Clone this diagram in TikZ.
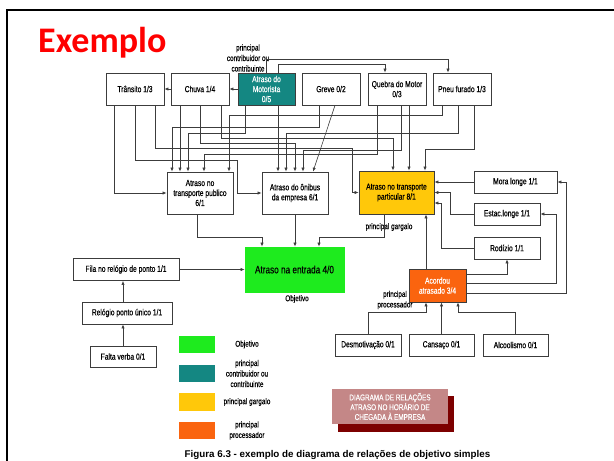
\documentclass[tikz,border=0pt]{standalone}
\usepackage{fontspec}
\setmainfont{Liberation Sans}
\newfontfamily\nodefont{Liberation Sans}[FakeStretch=0.76,FakeBold=0.35]
\newfontfamily\exfont{Carlito}
\usetikzlibrary{arrows.meta}
\definecolor{cgreen}{RGB}{30,235,30}
\definecolor{cteal}{RGB}{20,135,130}
\definecolor{cyellow}{RGB}{255,200,10}
\definecolor{corange}{RGB}{250,100,15}
\definecolor{cpink}{RGB}{196,135,135}
\definecolor{cdark}{RGB}{125,0,0}
\definecolor{cline}{RGB}{60,60,60}
\begin{document}
\begin{tikzpicture}[x=1pt,y=-1pt,
  bx/.style={draw=cline, line width=0.7pt, fill=white, inner sep=0pt, align=center,
    font=\nodefont\fontsize{8.8}{10}\selectfont},
  lbl/.style={inner sep=0pt, align=center, font=\nodefont\fontsize{8.4}{10.5}\selectfont},
  cn/.style={draw=cline, line width=0.6pt, -{Latex[length=4pt,width=3.2pt]}},
  sw/.style={draw=none, minimum width=36pt, minimum height=17.5pt, inner sep=0pt}]
\useasboundingbox (0,0) rectangle (614,461);
\fill[white] (0,0) rectangle (614,461);
\draw[line width=2.5pt] (7,461) -- (7,10) -- (614,10);

\node[anchor=base west, text=red, inner sep=0pt, font=\exfont\bfseries\fontsize{36}{40}\selectfont] (ex) at (38,52) {Exemplo};

% top row
\node[bx, minimum width=58pt, minimum height=32pt] (tra) at (135,89) {Trânsito 1/3};
\node[bx, minimum width=58pt, minimum height=32pt] (chu) at (200,89) {Chuva 1/4};
\node[bx, fill=cteal, text=white, minimum width=57pt, minimum height=32pt] (mot) at (266.5,89) {Atraso do\\Motorista\\0/5};
\node[bx, minimum width=58pt, minimum height=32pt] (gre) at (331,89) {Greve 0/2};
\node[bx, minimum width=58pt, minimum height=32pt] (que) at (397,89) {Quebra do Motor\\0/3};
\node[bx, minimum width=58pt, minimum height=32pt] (pne) at (462,89) {Pneu furado 1/3};
\node[lbl] (lcon) at (248,58) {principal\\contribuidor ou\\contribuinte};

% second row
\node[bx, minimum width=66pt, minimum height=42pt] (pub) at (200,193) {Atraso no\\transporte publico\\6/1};
\node[bx, minimum width=66pt, minimum height=42pt] (oni) at (295,193) {Atraso do ônibus\\da empresa 6/1};
\node[bx, fill=cyellow, minimum width=75pt, minimum height=43pt] (par) at (396.5,192.5) {Atraso no transporte\\particular 8/1};
\node[lbl] (lgar) at (389,227) {principal gargalo};

\node[bx, fill=cgreen, draw=cgreen, minimum width=99pt, minimum height=45pt, font=\nodefont\fontsize{10.8}{12}\selectfont] (ent) at (294.5,269.5) {Atraso na entrada 4/0};
\node[lbl] (lobj) at (297,299) {Objetivo};

\node[bx, minimum width=106pt, minimum height=22pt] (fil) at (126,269.5) {Fila no relógio de ponto 1/1};
\node[bx, minimum width=90pt, minimum height=22pt] (rel) at (127,313) {Relógio ponto único 1/1};
\node[bx, minimum width=66pt, minimum height=21pt] (fal) at (123,356.5) {Falta verba 0/1};

% right side
\node[bx, minimum width=83pt, minimum height=22pt] (mor) at (515.5,182) {Mora longe 1/1};
\node[bx, minimum width=66pt, minimum height=22pt] (est) at (507,214) {Estac.longe 1/1};
\node[bx, minimum width=66pt, minimum height=22pt] (rod) at (507,248) {Rodízio 1/1};
\node[bx, fill=corange, text=white, minimum width=57pt, minimum height=33pt] (aco) at (437.5,285.5) {Acordou\\atrasado 3/4};
\node[lbl] (lpro) at (395,300) {principal\\processador};

\node[bx, minimum width=66pt, minimum height=22pt] (des) at (368,345) {Desmotivação 0/1};
\node[bx, minimum width=65pt, minimum height=22pt] (can) at (441.5,345) {Cansaço 0/1};
\node[bx, minimum width=65pt, minimum height=22pt] (alc) at (515.5,345) {Alcoolismo 0/1};

% legend
\node[sw, fill=cgreen] (s1) at (197,344.5) {};
\node[sw, fill=cteal] (s2) at (197,373.5) {};
\node[sw, fill=cyellow] (s3) at (197,402) {};
\node[sw, fill=corange] (s4) at (197,430.5) {};
\node[lbl] (t1) at (247,344.5) {Objetivo};
\node[lbl] (t2) at (247,373.5) {principal\\contribuidor ou\\contribuinte};
\node[lbl] (t3) at (247,402) {principal gargalo};
\node[lbl] (t4) at (247,430.5) {principal\\processador};

% title box
\fill[cdark] (338,396) rectangle (454,432);
\node[fill=cpink, minimum width=116pt, minimum height=35pt, inner sep=0pt, align=center, text=white,
  font=\nodefont\fontsize{8.4}{9.8}\selectfont] (dia) at (390,406.5) {DIAGRAMA DE RELAÇÕES\\ATRASO NO HORÁRIO DE\\CHEGADA À EMPRESA};

\node[anchor=base, inner sep=0pt, font=\bfseries\fontsize{9.8}{11}\selectfont] (cap) at (337.5,457) {Figura 6.3 - exemplo de diagrama de relações de objetivo simples};

% connectors top row
\draw[cn] (mot.west) -- (chu.east);
\draw[cn] (chu.west) -- (tra.east);
\draw[cn] (mot.north) -- ++(0,-13) -| ([xshift=-14pt]pne.north);
\draw[cn] ([xshift=11.5pt]mot.north) -- ++(0,-8) -| ([xshift=-12pt]que.north);

% to second row
\draw[cn] ([xshift=11.5pt]mot.south) -- ([xshift=-17pt]oni.north);
\draw[cn] ([xshift=-21.5pt]mot.south) -- ++(0,28) -| ([xshift=-12pt]pub.north);
\draw[cn] ([xshift=-21pt]tra.south) |- (pub.west);
\draw[cn] (tra.south) -- ++(0,55) -- ++(102,0) |- (oni.west);
\draw[cn] ([xshift=20pt]tra.south) -- ++(0,43) -- ++(197,0) |- (par.west);
\draw[cn] ([xshift=-20pt]chu.south) -- ([xshift=-20pt]pub.north);
\draw[cn] (chu.south) -- ++(0,38) -| (oni.north);
\draw[cn] ([xshift=21pt]chu.south) -- ++(0,33) -| ([xshift=-3.5pt]par.north);
\draw[cn] ([xshift=-12pt]gre.south) -- ++(0,22) -| ([xshift=-28pt]pub.north);
\draw[cn] ([xshift=4pt]gre.south) -- ([xshift=18pt]oni.north);
\draw[cn] ([xshift=-20pt]que.south) -- ++(0,49) -| ([xshift=4pt]pub.north);
\draw[cn] ([xshift=4pt]que.south) -- ++(0,45) -| ([xshift=8pt]oni.north);
\draw[cn] ([xshift=12pt]que.south) -- ([xshift=12.5pt]par.north);
\draw[cn] ([xshift=-20pt]pne.south) -- ++(0,10) -| ([xshift=29pt]pub.north);
\draw[cn] ([xshift=-4pt]pne.south) -- ++(0,28) -| ([xshift=-9pt]oni.north);
\draw[cn] ([xshift=12pt]pne.south) -- ++(0,44) -| ([xshift=28.5pt]par.north);

% to objective
\draw[cn] ([xshift=-3pt]pub.south) -- ++(0,23) -| ([xshift=-32.5pt]ent.north);
\draw[cn] (oni.south) -- (oni.south |- ent.north);
\draw[cn] ([xshift=-12.5pt]par.south) -- ++(0,23) -| ([xshift=24.5pt]ent.north);
\draw[cn] (fil.east) -- (fil.east -| ent.west);
\draw[cn] (fal.north |- rel.north) -- (fal.north |- fil.south);
\draw[cn] (fal.north) -- (fal.north |- rel.south);

% right side
\draw[cn] (mor.west) -- (mor.west -| par.east);
\draw[cn] (est.west) -- ++(-23,0) |- (par.east);
\draw[cn] (rod.west) -- ++(-32,0) |- ([yshift=-10.5pt]par.east);
\draw[cn] ([xshift=-11.5pt]aco.north) -- ([xshift=-11.5pt]aco.north |- par.south);
\draw[cn] ([yshift=11.5pt]aco.east) -| (rod.south);
\draw[cn] ([yshift=2.5pt]aco.east) -- ++(90,0) |- (est.east);
\draw[cn] ([yshift=-7.5pt]aco.east) -- ++(100,0) |- (mor.east);
\draw[cn] (des.north) -- ++(0,-21) -| ([xshift=-11.5pt]aco.south);
\draw[cn] (can.north) -- (can.north |- aco.south);
\draw[cn] (alc.north) -- ++(0,-21) -| ([xshift=20.5pt]aco.south);
\end{tikzpicture}
\end{document}
